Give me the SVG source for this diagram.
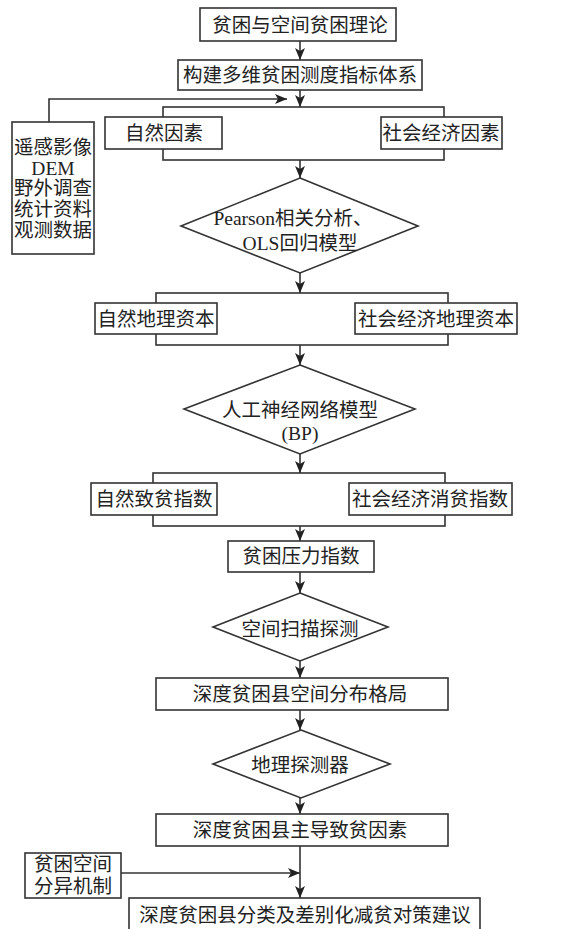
<svg xmlns="http://www.w3.org/2000/svg" width="566" height="929" viewBox="0 0 566 929">
<style>
text{font-family:"Liberation Serif","Noto Sans CJK SC",serif;font-size:19.5px;fill:#222;text-anchor:middle;dominant-baseline:central}
.box{fill:#fff;stroke:#333;stroke-width:1.6}
.ln{fill:none;stroke:#333;stroke-width:1.6}
</style>
<defs>
<marker id="ah" markerUnits="userSpaceOnUse" markerWidth="14" markerHeight="12" refX="12" refY="5" orient="auto">
<path d="M0,0 L12,5 L0,10 L3,5 z" fill="#222"/>
</marker>
</defs>
<rect width="566" height="929" fill="#fff"/>
<g id="connectors">
<line class="ln" x1="300" y1="41" x2="300" y2="60" marker-end="url(#ah)"/>
<line class="ln" x1="300" y1="90" x2="300" y2="107" marker-end="url(#ah)"/>
<rect class="ln" x="163" y="107" width="281" height="53"/>
<polyline class="ln" points="49,122 49,99 287,99" marker-end="url(#ah)"/>
<line class="ln" x1="300" y1="160" x2="300" y2="178" marker-end="url(#ah)"/>
<line class="ln" x1="300" y1="273" x2="300" y2="293" marker-end="url(#ah)"/>
<rect class="ln" x="156" y="293" width="292" height="52"/>
<line class="ln" x1="300" y1="345" x2="300" y2="365" marker-end="url(#ah)"/>
<line class="ln" x1="300" y1="454" x2="300" y2="473" marker-end="url(#ah)"/>
<rect class="ln" x="153" y="473" width="292" height="53"/>
<line class="ln" x1="300" y1="526" x2="300" y2="541" marker-end="url(#ah)"/>
<line class="ln" x1="300" y1="572" x2="300" y2="593" marker-end="url(#ah)"/>
<line class="ln" x1="300" y1="661" x2="300" y2="678" marker-end="url(#ah)"/>
<line class="ln" x1="300" y1="710" x2="300" y2="730" marker-end="url(#ah)"/>
<line class="ln" x1="300" y1="798" x2="300" y2="814" marker-end="url(#ah)"/>
<line class="ln" x1="300" y1="846" x2="300" y2="898" marker-end="url(#ah)"/>
<line class="ln" x1="121" y1="873" x2="300" y2="873" marker-end="url(#ah)"/>
</g>
<g id="n1"><rect class="box" x="200" y="8" width="196" height="33"/><text x="300" y="25">贫困与空间贫困理论</text></g>
<g id="n2"><rect class="box" x="178" y="60" width="244" height="30"/><text x="300" y="75">构建多维贫困测度指标体系</text></g>
<g id="n3"><rect class="box" x="105" y="117" width="117" height="32"/><text x="164" y="133">自然因素</text></g>
<g id="n4"><rect class="box" x="381" y="117" width="121" height="32"/><text x="441" y="133">社会经济因素</text></g>
<g id="n5"><rect class="box" x="12" y="122" width="82" height="132"/>
<text x="53" y="147">遥感影像</text><text x="53" y="168">DEM</text><text x="53" y="188">野外调查</text><text x="53" y="209">统计资料</text><text x="53" y="230">观测数据</text></g>
<g id="n6"><polygon class="box" points="300,178 418,226 300,273 181,226"/><text x="293" y="218">Pearson相关分析、</text><text x="300" y="243">OLS回归模型</text></g>
<g id="n7"><rect class="box" x="95" y="303" width="122" height="31"/><text x="156" y="319">自然地理资本</text></g>
<g id="n8"><rect class="box" x="355" y="303" width="162" height="31"/><text x="436" y="319">社会经济地理资本</text></g>
<g id="n9"><polygon class="box" points="300,365 415,409 300,454 184,409"/><text x="300" y="410">人工神经网络模型</text><text x="300" y="433">(BP)</text></g>
<g id="n10"><rect class="box" x="91" y="483" width="126" height="32"/><text x="154" y="499">自然致贫指数</text></g>
<g id="n11"><rect class="box" x="349" y="483" width="163" height="32"/><text x="430" y="499">社会经济消贫指数</text></g>
<g id="n12"><rect class="box" x="228" y="541" width="146" height="31"/><text x="301" y="556">贫困压力指数</text></g>
<g id="n13"><polygon class="box" points="300,593 388,627 300,661 213,627"/><text x="300" y="629">空间扫描探测</text></g>
<g id="n14"><rect class="box" x="156" y="678" width="292" height="32"/><text x="300" y="694">深度贫困县空间分布格局</text></g>
<g id="n15"><polygon class="box" points="301,730 390,764 301,798 213,764"/><text x="300" y="765">地理探测器</text></g>
<g id="n16"><rect class="box" x="156" y="814" width="292" height="32"/><text x="300" y="830">深度贫困县主导致贫因素</text></g>
<g id="n17"><rect class="box" x="25" y="853" width="96" height="45"/><text x="73" y="864">贫困空间</text><text x="73" y="886">分异机制</text></g>
<g id="n18"><rect class="box" x="129" y="898" width="351" height="40"/><text x="305" y="915">深度贫困县分类及差别化减贫对策建议</text></g>
</svg>
